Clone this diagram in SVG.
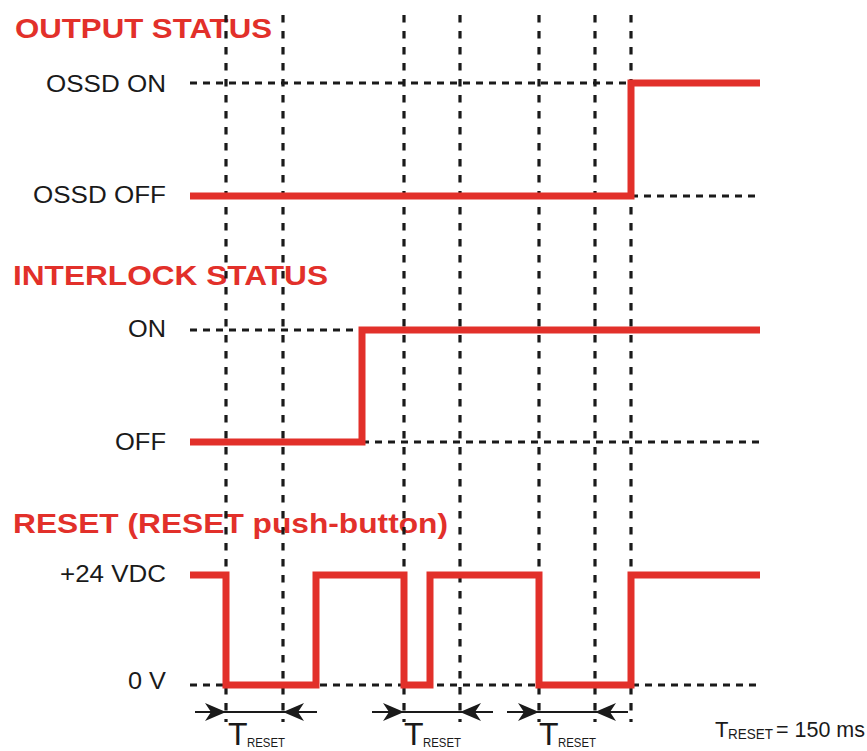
<svg xmlns="http://www.w3.org/2000/svg" width="867" height="751" viewBox="0 0 867 751">
<style>
.title{font-family:"Liberation Sans",Arial,sans-serif;font-weight:bold;font-size:28px;fill:#e2302a}
.lbl{font-family:"Liberation Sans",Arial,sans-serif;font-size:23px;fill:#1a1a1a}
.sig{fill:none;stroke:#e2302a;stroke-width:7;stroke-linejoin:miter;stroke-linecap:butt}
.vd{stroke:#1a1a1a;stroke-width:3.2;stroke-dasharray:7.5 8.5;fill:none}
.hd{stroke:#1a1a1a;stroke-width:3;stroke-dasharray:7 6;fill:none}
.dim{stroke:#1a1a1a;stroke-width:2;fill:none}
.ah{fill:#1a1a1a;stroke:none}
.tr{font-family:"Liberation Sans",Arial,sans-serif;fill:#1a1a1a}
</style>
<rect width="867" height="751" fill="#ffffff"/>

<g id="titles">
<text class="title" x="15" y="38" textLength="257" lengthAdjust="spacingAndGlyphs">OUTPUT STATUS</text>
<text class="title" x="13" y="285" textLength="315" lengthAdjust="spacingAndGlyphs">INTERLOCK STATUS</text>
<text class="title" x="13" y="533" textLength="435" lengthAdjust="spacingAndGlyphs">RESET (RESET push-button)</text>
</g>

<g id="labels">
<text class="lbl" x="46" y="92" textLength="120" lengthAdjust="spacingAndGlyphs">OSSD ON</text>
<text class="lbl" x="33" y="203" textLength="133" lengthAdjust="spacingAndGlyphs">OSSD OFF</text>
<text class="lbl" x="128" y="337" textLength="38" lengthAdjust="spacingAndGlyphs">ON</text>
<text class="lbl" x="115" y="450" textLength="51" lengthAdjust="spacingAndGlyphs">OFF</text>
<text class="lbl" x="60" y="582" textLength="106" lengthAdjust="spacingAndGlyphs">+24 VDC</text>
<text class="lbl" x="128" y="689" textLength="38" lengthAdjust="spacingAndGlyphs">0 V</text>
</g>

<g id="gridlines">
<path class="hd" d="M190,83 H631"/>
<path class="hd" d="M631,196 H760"/>
<path class="hd" d="M190,330 H362"/>
<path class="hd" d="M362,442 H760"/>
<path class="hd" d="M190,685 H760"/>
<path class="vd" d="M226,15 V722 M283,15 V722 M404,15 V722 M460,15 V722 M539,15 V722 M595,15 V722 M631,15 V722"/>
</g>

<g id="output-status">
<path class="sig" d="M190,196 H631 V83 H760"/>
</g>
<g id="interlock-status">
<path class="sig" d="M190,442 H362 V330 H760"/>
</g>
<g id="reset-signal">
<path class="sig" d="M190,575 H226 V685 H316 V575 H404 V685 H430 V575 H539 V685 H631 V575 H760"/>
</g>

<g id="connectors">
<path class="dim" d="M195,712 H317 M372,712 H493 M507,712 H628"/>
<path class="ah" d="M226,712 L205,703 L211,712 L205,721 Z"/>
<path class="ah" d="M283,712 L304,703 L298,712 L304,721 Z"/>
<path class="ah" d="M404,712 L383,703 L389,712 L383,721 Z"/>
<path class="ah" d="M460,712 L481,703 L475,712 L481,721 Z"/>
<path class="ah" d="M539,712 L518,703 L524,712 L518,721 Z"/>
<path class="ah" d="M595,712 L616,703 L610,712 L616,721 Z"/>
</g>

<g id="treset-labels">
<text class="tr" x="228" y="745" font-size="32">T</text>
<text class="tr" x="247" y="747" font-size="13" textLength="38" lengthAdjust="spacingAndGlyphs">RESET</text>
<text class="tr" x="404" y="745" font-size="32">T</text>
<text class="tr" x="423" y="747" font-size="13" textLength="38" lengthAdjust="spacingAndGlyphs">RESET</text>
<text class="tr" x="539" y="745" font-size="32">T</text>
<text class="tr" x="558" y="747" font-size="13" textLength="38" lengthAdjust="spacingAndGlyphs">RESET</text>
</g>

<g id="treset-note">
<text class="tr" x="715" y="737" font-size="22">T</text>
<text class="tr" x="728" y="739" font-size="14" textLength="45" lengthAdjust="spacingAndGlyphs">RESET</text>
<text class="tr" x="776" y="737" font-size="22" textLength="89" lengthAdjust="spacingAndGlyphs">= 150 ms</text>
</g>
</svg>
